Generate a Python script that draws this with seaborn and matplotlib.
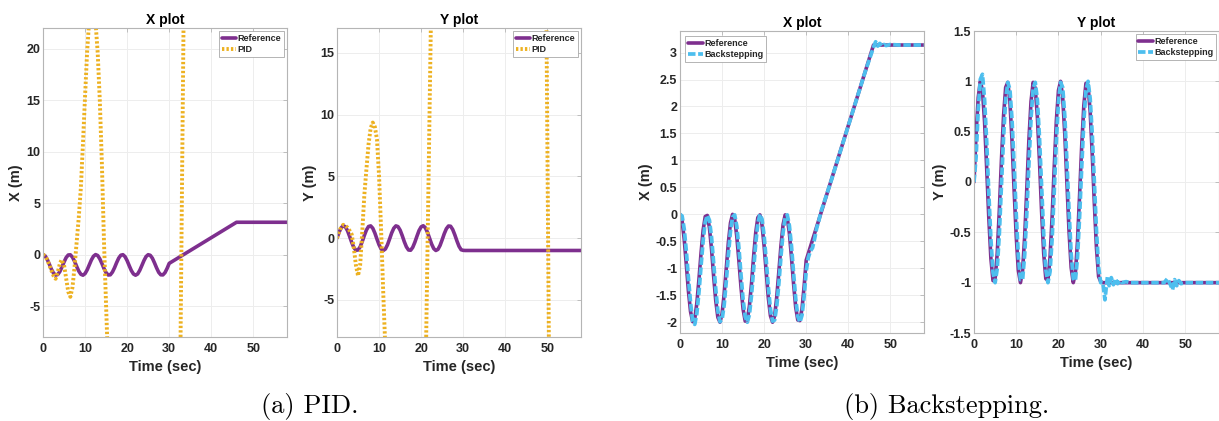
import numpy as np
import pandas as pd
import matplotlib
matplotlib.use("Agg")
import matplotlib.pyplot as plt
import seaborn as sns
from matplotlib.ticker import FuncFormatter

# ---------------- data ----------------
t_sin = [0, 0.5, 1, 1.5, 2, 2.5, 3, 3.5, 4, 4.5, 5, 5.5, 6, 6.5, 7, 7.5, 8, 8.5, 9, 9.5,
         10, 10.5, 11, 11.5, 12, 12.5, 13, 13.5, 14, 14.5, 15, 15.5, 16, 16.5, 17, 17.5,
         18, 18.5, 19, 19.5, 20, 20.5, 21, 21.5, 22, 22.5, 23, 23.5, 24, 24.5, 25, 25.5,
         26, 26.5, 27, 27.5, 28, 28.5, 29, 29.5, 30]

ref_x_osc = [0.00, -0.12, -0.46, -0.93, -1.42, -1.80, -1.99, -1.94, -1.65, -1.21, -0.72, -0.29,
             -0.04, -0.02, -0.25, -0.65, -1.15, -1.60, -1.91, -2.00, -1.84, -1.48, -1.00, -0.52,
             -0.16, 0.00, -0.09, -0.41, -0.86, -1.35, -1.76, -1.98, -1.96, -1.70, -1.28, -0.78,
             -0.34, -0.06, -0.01, -0.20, -0.59, -1.08, -1.55, -1.88, -2.00, -1.88, -1.53, -1.06,
             -0.58, -0.19, -0.01, -0.07, -0.35, -0.80, -1.29, -1.72, -1.96, -1.97, -1.75, -1.34,
             -0.85]
ref_x_t = t_sin + [46, 58]
ref_x = ref_x_osc + [3.14, 3.14]

ref_y_osc = [0.00, 0.48, 0.84, 1.00, 0.91, 0.60, 0.14, -0.35, -0.76, -0.98, -0.96, -0.71,
             -0.28, 0.22, 0.66, 0.94, 0.99, 0.80, 0.41, -0.08, -0.54, -0.88, -1.00, -0.88,
             -0.54, -0.07, 0.42, 0.80, 0.99, 0.93, 0.65, 0.21, -0.29, -0.71, -0.96, -0.98,
             -0.75, -0.34, 0.15, 0.61, 0.91, 1.00, 0.84, 0.47, -0.01, -0.49, -0.85, -1.00,
             -0.91, -0.59, -0.13, 0.36, 0.76, 0.98, 0.96, 0.70, 0.27, -0.22, -0.66, -0.94,
             -0.99]
ref_y_t = t_sin + [30.5, 58]
ref_y = ref_y_osc + [-1.00, -1.00]

# PID response (X)
pid_x_t = [0, 0.5, 1, 1.5, 2, 2.5, 3, 3.5, 4, 4.4, 5, 5.5, 6, 6.5, 7, 7.5, 8, 8.5, 9, 9.5,
           10, 10.5, 11, 11.5, 12, 12.5, 13, 13.5, 14, 14.5, 15, 15.5, 16, 17, 20, 25, 30,
           32, 32.5, 33, 33.5, 34, 36, 45, 58]
pid_x = [0.0, -0.15, -0.5, -1.0, -1.55, -2.05, -2.35, -1.7, -0.9, -0.5, -1.0, -2.3, -3.6,
         -4.1, -3.2, -1.2, 1.2, 3.6, 6.5, 10.8, 15.4, 19.8, 22.8, 24.0, 23.8, 22.5, 19.6,
         15.0, 8.8, 1.2, -5.0, -11.0, -17.0, -28.0, -50.0, -60.0, -45.0, -28.0, -16.6,
         4.9, 26.4, 45.0, 60.0, 80.0, 90.0]

# PID response (Y)
pid_y_t = [0, 0.5, 1, 1.5, 2, 2.5, 3, 3.5, 4, 4.5, 5, 5.5, 6, 6.5, 7, 7.5, 8, 8.5, 9, 9.5,
           10, 10.5, 11, 11.5, 12, 14, 17, 19, 20, 21, 21.5, 22, 22.5, 23, 25, 35, 45, 48,
           49, 49.5, 50, 50.5, 51, 55, 58]
pid_y = [0.0, 0.5, 0.9, 1.08, 1.0, 0.85, 0.6, 0.3, -0.8, -2.2, -3.05, -2.2, 0.5, 3.5, 5.6,
         7.6, 8.9, 9.35, 9.0, 8.0, 5.0, 0.5, -4.5, -9.0, -14.0, -32.0, -40.0, -30.0, -22.0,
         -12.5, -1.2, 10.2, 21.5, 30.0, 45.0, 70.0, 55.0, 45.0, 38.0, 30.5, 8.0, -14.5,
         -37.0, -80.0, -90.0]

# Backstepping response (X)
bs_x_t = t_sin + [30.5, 31, 31.5, 32, 32.5, 33, 33.5, 34, 36, 40, 44, 46, 46.5, 47, 47.5,
                  48, 48.5, 49, 50, 52, 58]
bs_x = [0.00, -0.03, -0.27, -0.68, -1.18, -1.63, -1.98, -2.04, -1.84, -1.45, -0.96, -0.49,
        -0.14, -0.02, -0.11, -0.43, -0.90, -1.39, -1.79, -1.99, -1.95, -1.68, -1.24, -0.75,
        -0.31, -0.05, -0.01, -0.22, -0.62, -1.12, -1.58, -1.90, -2.00, -1.86, -1.50, -1.02,
        -0.54, -0.17, 0.00, -0.09, -0.40, -0.86, -1.35, -1.76, -1.98, -1.96, -1.70, -1.28,
        -0.78, -0.34, -0.06, -0.01, -0.21, -0.59, -1.09, -1.56, -1.89, -2.00, -1.87, -1.53,
        -1.05, -0.80, -0.68, -0.62, -0.45, -0.25, -0.12, 0.05, 0.16, 0.64, 1.64, 2.64,
        3.10, 3.20, 3.12, 3.17, 3.12, 3.15, 3.13, 3.15, 3.14, 3.14]

# Backstepping response (Y)
bs_y_t = t_sin + [30.5, 31, 31.3, 31.6, 32, 32.5, 33, 33.5, 34, 34.5, 35, 36, 37, 40, 45,
                  45.8, 46.5, 47, 47.5, 48, 48.5, 49, 50, 58]
bs_y = [0.00, 0.25, 0.72, 1.02, 1.07, 0.82, 0.40, -0.11, -0.57, -0.90, -1.00, -0.86,
        -0.51, -0.03, 0.45, 0.82, 0.99, 0.92, 0.62, 0.17, -0.32, -0.74, -0.97, -0.97,
        -0.72, -0.31, 0.18, 0.63, 0.93, 0.99, 0.82, 0.44, -0.04, -0.52, -0.87, -1.00,
        -0.89, -0.56, -0.09, 0.41, 0.80, 0.99, 0.94, 0.65, 0.20, -0.29, -0.71, -0.96,
        -0.98, -0.75, -0.34, 0.15, 0.60, 0.91, 1.00, 0.83, 0.47, -0.01, -0.49, -0.85,
        -1.00, -1.00, -1.17, -1.05, -0.94, -1.03, -0.95, -1.02, -0.96, -1.01, -0.98,
        -1.00, -0.99, -1.00, -1.00, -1.00, -0.96, -1.02, -1.07, -0.97, -1.03, -0.98,
        -1.01, -1.00, -1.00]

x_ticks = [0, 10, 20, 30, 40, 50]
captions = ["(a) PID.", "(b) Backstepping."]

# ---------------- style ----------------
sns.set_theme(style="whitegrid")
plt.rcParams['font.family'] = ['Liberation Sans', 'DejaVu Sans']
plt.rcParams['axes.unicode_minus'] = False

C_REF = "#7E2F8E"
C_PID = "#EDB120"
C_BS = "#4DBEEE"
TXT = "#262626"
SPINE = "#b5b5b5"

fig = plt.figure(figsize=(12.19, 4.21), dpi=100)
W, H = 1219, 421


def make_ax(l, t, r, b):
    return fig.add_axes([l / W, 1 - b / H, (r - l) / W, (b - t) / H])


axes = [make_ax(43, 28, 287, 337), make_ax(337, 28, 581, 337),
        make_ax(680, 31, 924, 333), make_ax(974, 31, 1219, 333)]

fmt = FuncFormatter(lambda v, p: "%g" % round(v, 2))


def style_ax(ax, title, ylabel, ylim, yticks):
    ax.set_xlim(0, 58)
    ax.set_ylim(*ylim)
    ax.set_xticks(x_ticks)
    ax.set_yticks(yticks)
    ax.xaxis.set_major_formatter(fmt)
    ax.yaxis.set_major_formatter(fmt)
    ax.set_facecolor("white")
    ax.grid(True, color="#ededed", linewidth=0.7)
    for s in ax.spines.values():
        s.set_visible(True)
        s.set_color(SPINE)
        s.set_linewidth(0.8)
    ax.tick_params(direction="in", length=3, width=0.6, color=SPINE,
                   top=True, right=True, labelsize=9, labelcolor=TXT)
    ax.tick_params(axis="x", pad=4.5)
    ax.tick_params(axis="y", pad=2)
    for lab in ax.get_xticklabels() + ax.get_yticklabels():
        lab.set_fontweight("bold")
    ax.set_title(title, fontsize=10, fontweight="bold", color="black", pad=3)
    ax.set_xlabel("Time (sec)", fontsize=10.5, fontweight="bold", color=TXT, labelpad=3.5)
    ax.set_ylabel(ylabel, fontsize=10.5, fontweight="bold", color=TXT, labelpad=2)


def draw(ax, t, v, color, label, dashes, lw):
    sns.lineplot(x=t, y=v, ax=ax, color=color, linewidth=lw, label=label,
                 estimator=None, sort=False)
    ln = ax.lines[-1]
    if dashes is not None:
        ln.set_dashes(dashes)
        ln.set_dash_capstyle("butt")
    return ln


def legend(ax, loc, pad):
    leg = ax.legend(loc=loc, prop={"size": 6.5, "weight": "bold"}, handlelength=1.6,
                    handletextpad=0.15, borderpad=0.3, labelspacing=0.25, fancybox=False,
                    framealpha=1, edgecolor="#a8a8a8", borderaxespad=pad)
    leg.get_frame().set_linewidth(0.6)


# dash patterns in units of line width
PID_DASH = (0.6, 0.55)
BS_DASH = (2.0, 0.7)

# (a) PID X
ax = axes[0]
draw(ax, ref_x_t, ref_x, C_REF, "Reference", None, 2.6)
draw(ax, pid_x_t, pid_x, C_PID, "PID", PID_DASH, 2.8)
style_ax(ax, "X plot", "X (m)", (-8, 22), [-5, 0, 5, 10, 15, 20])
legend(ax, "upper right", 0.35)

# (a) PID Y
ax = axes[1]
draw(ax, ref_y_t, ref_y, C_REF, "Reference", None, 2.6)
draw(ax, pid_y_t, pid_y, C_PID, "PID", PID_DASH, 2.8)
style_ax(ax, "Y plot", "Y (m)", (-8, 17), [-5, 0, 5, 10, 15])
legend(ax, "upper right", 0.35)

# (b) Backstepping X
ax = axes[2]
draw(ax, ref_x_t, ref_x, C_REF, "Reference", None, 2.6)
draw(ax, bs_x_t, bs_x, C_BS, "Backstepping", BS_DASH, 2.7)
style_ax(ax, "X plot", "X (m)", (-2.2, 3.4), [-2, -1.5, -1, -0.5, 0, 0.5, 1, 1.5, 2, 2.5, 3])
legend(ax, "upper left", 0.6)

# (b) Backstepping Y
ax = axes[3]
draw(ax, ref_y_t, ref_y, C_REF, "Reference", None, 2.6)
draw(ax, bs_y_t, bs_y, C_BS, "Backstepping", BS_DASH, 2.7)
style_ax(ax, "Y plot", "Y (m)", (-1.5, 1.5), [-1.5, -1, -0.5, 0, 0.5, 1, 1.5])
legend(ax, "upper right", 0.35)

# captions
fig.text(310 / W, 1 - 407 / H, captions[0], ha="center", va="center",
         family="cmr10", fontsize=19, color="black")
fig.text(947 / W, 1 - 407 / H, captions[1], ha="center", va="center",
         family="cmr10", fontsize=19, color="black")

fig.savefig("out.png", dpi=100, facecolor="white")
